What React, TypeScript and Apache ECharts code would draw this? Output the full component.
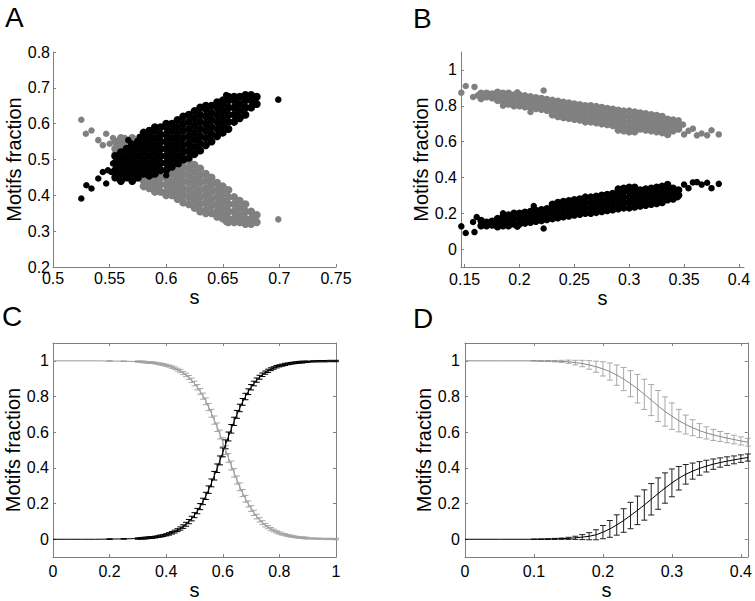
import React, { useEffect, useRef } from "react";
import * as echarts from "echarts";

// ---------- Panel A: scatter (columns of points: [s, fractions...]) ----------
const aBlackCols: [number, number[]][] = [
  [0.555, [0.45, 0.47, 0.49, 0.51]],
  [0.56, [0.44, 0.46, 0.48, 0.5, 0.52]],
  [0.565, [0.45, 0.47, 0.49, 0.51, 0.53]],
  [0.57, [0.44, 0.46, 0.48, 0.5, 0.52, 0.54]],
  [0.575, [0.45, 0.47, 0.49, 0.51, 0.53, 0.55]],
  [0.58, [0.46, 0.48, 0.5, 0.52, 0.54, 0.56, 0.575]],
  [0.585, [0.455, 0.47, 0.49, 0.51, 0.53, 0.55, 0.57, 0.58]],
  [0.59, [0.46, 0.48, 0.5, 0.52, 0.54, 0.56, 0.58, 0.59]],
  [0.595, [0.47, 0.49, 0.51, 0.53, 0.55, 0.57, 0.59]],
  [0.6, [0.47, 0.49, 0.51, 0.53, 0.55, 0.57, 0.59, 0.6]],
  [0.605, [0.48, 0.5, 0.52, 0.54, 0.56, 0.58, 0.6]],
  [0.61, [0.49, 0.51, 0.53, 0.55, 0.57, 0.59, 0.61]],
  [0.615, [0.5, 0.52, 0.54, 0.56, 0.58, 0.6, 0.62]],
  [0.62, [0.505, 0.525, 0.545, 0.565, 0.585, 0.605, 0.625]],
  [0.625, [0.515, 0.535, 0.555, 0.575, 0.595, 0.615, 0.635]],
  [0.63, [0.525, 0.545, 0.565, 0.585, 0.605, 0.625, 0.645]],
  [0.635, [0.54, 0.56, 0.58, 0.6, 0.62, 0.64, 0.65]],
  [0.64, [0.55, 0.57, 0.59, 0.61, 0.63, 0.65]],
  [0.645, [0.565, 0.585, 0.605, 0.625, 0.645, 0.66]],
  [0.65, [0.575, 0.595, 0.615, 0.635, 0.655, 0.665]],
  [0.655, [0.585, 0.605, 0.625, 0.645, 0.665, 0.675]],
  [0.66, [0.605, 0.625, 0.645, 0.665, 0.675]],
  [0.665, [0.615, 0.635, 0.655, 0.675]],
  [0.67, [0.625, 0.645, 0.665, 0.68]],
  [0.675, [0.645, 0.665, 0.68]],
  [0.68, [0.655, 0.675]],
];
const aBlackExtra: number[][] = [
  [0.525, 0.391], [0.5295, 0.428], [0.534, 0.419], [0.54, 0.447], [0.544, 0.465],
  [0.547, 0.433], [0.5515, 0.465], [0.553, 0.489], [0.5485, 0.47], [0.5635, 0.507],
  [0.5665, 0.554], [0.569, 0.545], [0.5765, 0.563], [0.6, 0.456], [0.653, 0.68],
  [0.699, 0.667], [0.662, 0.623], [0.611, 0.487],
];
const aGrayCols: [number, number[]][] = [
  [0.555, [0.55, 0.53, 0.51, 0.49]],
  [0.56, [0.56, 0.54, 0.52, 0.5, 0.48]],
  [0.565, [0.55, 0.53, 0.51, 0.49, 0.47]],
  [0.57, [0.56, 0.54, 0.52, 0.5, 0.48, 0.46]],
  [0.575, [0.55, 0.53, 0.51, 0.49, 0.47, 0.45]],
  [0.58, [0.54, 0.52, 0.5, 0.48, 0.46, 0.44, 0.425]],
  [0.585, [0.545, 0.53, 0.51, 0.49, 0.47, 0.45, 0.43, 0.42]],
  [0.59, [0.54, 0.52, 0.5, 0.48, 0.46, 0.44, 0.42, 0.41]],
  [0.595, [0.53, 0.51, 0.49, 0.47, 0.45, 0.43, 0.41]],
  [0.6, [0.53, 0.51, 0.49, 0.47, 0.45, 0.43, 0.41, 0.4]],
  [0.605, [0.52, 0.5, 0.48, 0.46, 0.44, 0.42, 0.4]],
  [0.61, [0.51, 0.49, 0.47, 0.45, 0.43, 0.41, 0.39]],
  [0.615, [0.5, 0.48, 0.46, 0.44, 0.42, 0.4, 0.38]],
  [0.62, [0.495, 0.475, 0.455, 0.435, 0.415, 0.395, 0.375]],
  [0.625, [0.485, 0.465, 0.445, 0.425, 0.405, 0.385, 0.365]],
  [0.63, [0.475, 0.455, 0.435, 0.415, 0.395, 0.375, 0.355]],
  [0.635, [0.46, 0.44, 0.42, 0.4, 0.38, 0.36, 0.35]],
  [0.64, [0.45, 0.43, 0.41, 0.39, 0.37, 0.35]],
  [0.645, [0.435, 0.415, 0.395, 0.375, 0.355, 0.34]],
  [0.65, [0.425, 0.405, 0.385, 0.365, 0.345, 0.335]],
  [0.655, [0.415, 0.395, 0.375, 0.355, 0.335, 0.325]],
  [0.66, [0.395, 0.375, 0.355, 0.335, 0.325]],
  [0.665, [0.385, 0.365, 0.345, 0.325]],
  [0.67, [0.375, 0.355, 0.335, 0.32]],
  [0.675, [0.355, 0.335, 0.32]],
  [0.68, [0.345, 0.325]],
];
const aGrayExtra: number[][] = [
  [0.525, 0.611], [0.529, 0.572], [0.534, 0.581], [0.54, 0.554], [0.544, 0.54],
  [0.547, 0.572], [0.55, 0.544], [0.5545, 0.516], [0.5605, 0.554], [0.553, 0.56],
  [0.5635, 0.56], [0.6, 0.545], [0.653, 0.325], [0.699, 0.333], [0.68, 0.325],
];

// ---------- Panel B: scatter ----------
const bBlackCols: [number, number[]][] = [
  [0.165, [0.13, 0.16]], [0.17, [0.13, 0.15]], [0.175, [0.135, 0.155]],
  [0.18, [0.125, 0.15, 0.17]], [0.185, [0.13, 0.155, 0.18]], [0.19, [0.13, 0.16, 0.19]],
  [0.195, [0.14, 0.17, 0.2]], [0.2, [0.14, 0.17, 0.2]], [0.205, [0.145, 0.175, 0.205]],
  [0.21, [0.15, 0.18, 0.21]], [0.215, [0.155, 0.185, 0.215]], [0.22, [0.16, 0.19, 0.22]],
  [0.225, [0.165, 0.195, 0.225]], [0.23, [0.17, 0.2, 0.23, 0.25]],
  [0.235, [0.175, 0.205, 0.235, 0.26]], [0.24, [0.18, 0.21, 0.24, 0.265]],
  [0.245, [0.185, 0.215, 0.245, 0.27]], [0.25, [0.19, 0.22, 0.25, 0.275]],
  [0.255, [0.195, 0.225, 0.255, 0.28]], [0.26, [0.2, 0.23, 0.26, 0.29]],
  [0.265, [0.2, 0.23, 0.26, 0.29]], [0.27, [0.205, 0.235, 0.265, 0.295]],
  [0.275, [0.21, 0.24, 0.27, 0.3]], [0.28, [0.215, 0.245, 0.275, 0.305]],
  [0.285, [0.22, 0.25, 0.28, 0.31]], [0.29, [0.225, 0.255, 0.285, 0.315, 0.335]],
  [0.295, [0.23, 0.26, 0.29, 0.32, 0.34]], [0.3, [0.23, 0.26, 0.29, 0.32, 0.345]],
  [0.305, [0.235, 0.265, 0.295, 0.325, 0.345]], [0.31, [0.24, 0.27, 0.3, 0.33]],
  [0.315, [0.245, 0.275, 0.305, 0.335]], [0.32, [0.25, 0.28, 0.31, 0.34]],
  [0.325, [0.255, 0.285, 0.315, 0.345]], [0.33, [0.26, 0.29, 0.32, 0.35]],
  [0.335, [0.275, 0.305, 0.335, 0.36]], [0.34, [0.28, 0.31, 0.34]], [0.345, [0.3, 0.33]],
];
const bBlackExtra: number[][] = [
  [0.147, 0.127], [0.151, 0.09], [0.159, 0.095], [0.1577, 0.151], [0.161, 0.179],
  [0.213, 0.24], [0.222, 0.115], [0.344, 0.29], [0.35, 0.36], [0.354, 0.34],
  [0.3617, 0.374], [0.366, 0.36], [0.371, 0.37], [0.375, 0.34], [0.3816, 0.364],
  [0.405, 0.434], [0.358, 0.372], [0.198, 0.125], [0.185, 0.2],
];
const bGrayCols: [number, number[]][] = [
  [0.165, [0.87, 0.84]], [0.17, [0.87, 0.85]], [0.175, [0.865, 0.845]],
  [0.18, [0.875, 0.85, 0.83]], [0.185, [0.87, 0.845, 0.82]], [0.19, [0.87, 0.84, 0.81]],
  [0.195, [0.86, 0.83, 0.8]], [0.2, [0.86, 0.83, 0.8]], [0.205, [0.855, 0.825, 0.795]],
  [0.21, [0.85, 0.82, 0.79]], [0.215, [0.845, 0.815, 0.785]], [0.22, [0.84, 0.81, 0.78]],
  [0.225, [0.835, 0.805, 0.775]], [0.23, [0.83, 0.8, 0.77, 0.75]],
  [0.235, [0.825, 0.795, 0.765, 0.74]], [0.24, [0.82, 0.79, 0.76, 0.735]],
  [0.245, [0.815, 0.785, 0.755, 0.73]], [0.25, [0.81, 0.78, 0.75, 0.725]],
  [0.255, [0.805, 0.775, 0.745, 0.72]], [0.26, [0.8, 0.77, 0.74, 0.71]],
  [0.265, [0.8, 0.77, 0.74, 0.71]], [0.27, [0.795, 0.765, 0.735, 0.705]],
  [0.275, [0.79, 0.76, 0.73, 0.7]], [0.28, [0.785, 0.755, 0.725, 0.695]],
  [0.285, [0.78, 0.75, 0.72, 0.69]], [0.29, [0.775, 0.745, 0.715, 0.685, 0.665]],
  [0.295, [0.77, 0.74, 0.71, 0.68, 0.66]], [0.3, [0.77, 0.74, 0.71, 0.68, 0.655]],
  [0.305, [0.765, 0.735, 0.705, 0.675, 0.655]], [0.31, [0.76, 0.73, 0.7, 0.67]],
  [0.315, [0.755, 0.725, 0.695, 0.665]], [0.32, [0.75, 0.72, 0.69, 0.66]],
  [0.325, [0.745, 0.715, 0.685, 0.655]], [0.33, [0.74, 0.71, 0.68, 0.65]],
  [0.335, [0.725, 0.695, 0.665, 0.64]], [0.34, [0.72, 0.69, 0.66]], [0.345, [0.7, 0.67]],
];
const bGrayExtra: number[][] = [
  [0.147, 0.873], [0.151, 0.91], [0.159, 0.905], [0.1577, 0.849], [0.162, 0.858],
  [0.21, 0.765], [0.222, 0.885], [0.344, 0.71], [0.35, 0.64], [0.354, 0.66],
  [0.3617, 0.635], [0.366, 0.645], [0.371, 0.635], [0.375, 0.663], [0.3816, 0.64],
  [0.405, 0.574], [0.358, 0.672], [0.198, 0.875], [0.185, 0.8], [0.345, 0.719], [0.349, 0.695],
];

// ---------- Panel C: mean curves with error bars ----------
const cS = [
  0, 0.05, 0.1, 0.15, 0.2, 0.25,
  0.3, 0.31, 0.32, 0.33, 0.34, 0.35, 0.36, 0.37, 0.38, 0.39,
  0.4, 0.41, 0.42, 0.43, 0.44, 0.45, 0.46, 0.47, 0.48, 0.49,
  0.5, 0.51, 0.52, 0.53, 0.54, 0.55, 0.56, 0.57, 0.58, 0.59,
  0.6, 0.61, 0.62, 0.63, 0.64, 0.65, 0.66, 0.67, 0.68, 0.69,
  0.7, 0.71, 0.72, 0.73, 0.74, 0.75, 0.76, 0.77, 0.78, 0.79,
  0.8, 0.81, 0.82, 0.83, 0.84, 0.85, 0.86, 0.87, 0.88, 0.89,
  0.9, 0.92, 0.94, 0.96, 0.98, 1,
];
const cBlack = [
  0, 0, 0, 0, 0.001, 0.002,
  0.004, 0.005, 0.006, 0.007, 0.009, 0.01, 0.012, 0.015, 0.018, 0.021,
  0.025, 0.03, 0.036, 0.043, 0.051, 0.06, 0.071, 0.084, 0.099, 0.116,
  0.135, 0.158, 0.183, 0.212, 0.243, 0.278, 0.316, 0.356, 0.398, 0.442,
  0.487, 0.532, 0.576, 0.619, 0.661, 0.7, 0.736, 0.77, 0.8, 0.827,
  0.852, 0.873, 0.892, 0.908, 0.922, 0.934, 0.944, 0.953, 0.96, 0.967,
  0.972, 0.976, 0.98, 0.983, 0.986, 0.988, 0.99, 0.992, 0.993, 0.994,
  0.995, 0.997, 0.998, 0.998, 0.999, 0.999,
];
const cBlackErr = [
  0, 0, 0, 0, 0.001, 0.001,
  0.004, 0.004, 0.005, 0.005, 0.005, 0.005, 0.005, 0.005, 0.006, 0.006,
  0.006, 0.007, 0.007, 0.008, 0.008, 0.009, 0.01, 0.011, 0.012, 0.013,
  0.014, 0.015, 0.017, 0.018, 0.02, 0.021, 0.022, 0.024, 0.024, 0.025,
  0.025, 0.025, 0.025, 0.024, 0.023, 0.022, 0.021, 0.019, 0.018, 0.016,
  0.015, 0.013, 0.012, 0.011, 0.01, 0.009, 0.009, 0.008, 0.007, 0.007,
  0.006, 0.006, 0.006, 0.005, 0.005, 0.005, 0.005, 0.005, 0.005, 0.004,
  0.004, 0.004, 0.004, 0.004, 0.004, 0.004,
];
const cGray = [
  1, 1, 1, 1, 0.999, 0.998,
  0.996, 0.995, 0.994, 0.992, 0.991, 0.99, 0.988, 0.985, 0.982, 0.979,
  0.975, 0.971, 0.965, 0.959, 0.951, 0.943, 0.932, 0.921, 0.907, 0.891,
  0.873, 0.852, 0.829, 0.802, 0.773, 0.741, 0.706, 0.668, 0.628, 0.587,
  0.544, 0.5, 0.456, 0.413, 0.372, 0.332, 0.294, 0.259, 0.227, 0.198,
  0.172, 0.148, 0.127, 0.109, 0.093, 0.079, 0.068, 0.057, 0.049, 0.041,
  0.035, 0.029, 0.025, 0.021, 0.018, 0.015, 0.012, 0.01, 0.009, 0.007,
  0.006, 0.004, 0.003, 0.002, 0.002, 0.001,
];
const cGrayErr = [
  0, 0, 0, 0, 0.001, 0.001,
  0.004, 0.004, 0.005, 0.005, 0.005, 0.005, 0.005, 0.005, 0.006, 0.006,
  0.006, 0.006, 0.007, 0.007, 0.008, 0.009, 0.009, 0.01, 0.011, 0.012,
  0.013, 0.015, 0.016, 0.017, 0.019, 0.02, 0.022, 0.023, 0.024, 0.025,
  0.025, 0.025, 0.025, 0.025, 0.024, 0.023, 0.022, 0.02, 0.019, 0.017,
  0.016, 0.015, 0.013, 0.012, 0.011, 0.01, 0.009, 0.009, 0.008, 0.007,
  0.007, 0.006, 0.006, 0.006, 0.006, 0.005, 0.005, 0.005, 0.005, 0.005,
  0.005, 0.004, 0.004, 0.004, 0.004, 0.004,
];

// ---------- Panel D ----------
const dS = [
  0, 0.05, 0.1, 0.11, 0.12, 0.13, 0.14, 0.15, 0.16, 0.17, 0.18, 0.19,
  0.2, 0.21, 0.22, 0.23, 0.24, 0.25, 0.26, 0.27, 0.28, 0.29,
  0.3, 0.31, 0.32, 0.33, 0.34, 0.35, 0.36, 0.37, 0.38, 0.39, 0.4, 0.41,
];
const dGray = [
  1, 1, 1, 0.999, 0.999, 0.998, 0.997, 0.995, 0.99, 0.985, 0.977, 0.967,
  0.955, 0.94, 0.92, 0.898, 0.872, 0.844, 0.812, 0.78, 0.747, 0.716,
  0.69, 0.665, 0.643, 0.625, 0.609, 0.596, 0.585, 0.576, 0.567, 0.559, 0.551, 0.544,
];
const dGrayErr = [
  0, 0, 0.001, 0.002, 0.003, 0.004, 0.006, 0.009, 0.013, 0.018, 0.024, 0.031,
  0.04, 0.048, 0.057, 0.065, 0.073, 0.08, 0.085, 0.087, 0.087, 0.082,
  0.074, 0.063, 0.053, 0.045, 0.039, 0.034, 0.031, 0.028, 0.026, 0.024, 0.023, 0.022,
];
const dBlack = [
  0, 0, 0, 0.0005, 0.001, 0.002, 0.003, 0.005, 0.008, 0.012, 0.017, 0.025,
  0.04, 0.058, 0.08, 0.105, 0.133, 0.162, 0.192, 0.224, 0.256, 0.287,
  0.316, 0.342, 0.364, 0.382, 0.397, 0.41, 0.421, 0.43, 0.438, 0.445, 0.452, 0.458,
];
const dBlackErr = [
  0, 0, 0.0005, 0.001, 0.002, 0.003, 0.004, 0.006, 0.009, 0.014, 0.02, 0.028,
  0.037, 0.047, 0.057, 0.066, 0.074, 0.08, 0.085, 0.088, 0.088, 0.085,
  0.078, 0.066, 0.055, 0.045, 0.038, 0.033, 0.029, 0.026, 0.024, 0.022, 0.021, 0.02,
];

// ---------- tick values ----------
const aXTicks = [0.5, 0.55, 0.6, 0.65, 0.7, 0.75];
const aYTicks = [0.2, 0.3, 0.4, 0.5, 0.6, 0.7, 0.8];
const bXTicks = [0.15, 0.2, 0.25, 0.3, 0.35, 0.4];
const fracTicks = [0, 0.2, 0.4, 0.6, 0.8, 1];
const cXTicks = [0, 0.2, 0.4, 0.6, 0.8, 1];
const dXTicks = [0, 0.1, 0.2, 0.3, 0.4];

const FONT = '"Liberation Sans", Arial, Helvetica, sans-serif';
const AXIS_GRAY = "#808080";

const flat = (cols: [number, number[]][]) => cols.flatMap(([s, vs]) => vs.map((v) => [s, v]));
const zipXY = (xs: number[], ys: number[]) => xs.map((x, i) => [x, ys[i]]);
const zipErr = (xs: number[], ys: number[], es: number[]) =>
  xs.map((x, i) => [x, ys[i], es[i]]).filter((d) => d[2] > 0);

const fmt = (v: number) => String(Math.round(v * 100) / 100);

function axis(o: {
  grid: number; min: number; max: number; ticks: number[]; pos: string;
  labels: boolean; margin?: number; name?: string; nameGap?: number;
}) {
  return {
    type: "value",
    gridIndex: o.grid,
    min: o.min,
    max: o.max,
    position: o.pos,
    axisLine: { show: true, onZero: false, lineStyle: { color: AXIS_GRAY, width: 1 } },
    axisTick: { show: true, inside: true, length: 3, customValues: o.ticks, lineStyle: { color: AXIS_GRAY } },
    axisLabel: {
      show: o.labels,
      customValues: o.ticks,
      margin: o.margin ?? 4,
      formatter: fmt,
      color: "#000",
      fontSize: 16,
      fontFamily: FONT,
    },
    splitLine: { show: false },
    name: o.name,
    nameLocation: "middle",
    nameGap: o.nameGap,
    nameTextStyle: { color: "#000", fontSize: 20, fontFamily: FONT },
  };
}

function errSeries(data: number[][], xi: number, yi: number, color: string, cap: number) {
  return {
    type: "custom",
    xAxisIndex: xi,
    yAxisIndex: yi,
    data,
    encode: { x: 0, y: 1 },
    renderItem: (_p: any, api: any) => {
      const x = api.value(0);
      const y = api.value(1);
      const e = api.value(2);
      const t = api.coord([x, y + e]);
      const b = api.coord([x, y - e]);
      const style = { stroke: color, lineWidth: 1, fill: "none" };
      return {
        type: "group",
        children: [
          { type: "line", shape: { x1: t[0], y1: t[1], x2: b[0], y2: b[1] }, style },
          { type: "line", shape: { x1: t[0] - cap, y1: t[1], x2: t[0] + cap, y2: t[1] }, style },
          { type: "line", shape: { x1: b[0] - cap, y1: b[1], x2: b[0] + cap, y2: b[1] }, style },
        ],
      };
    },
  };
}

function lineSeries(data: number[][], xi: number, yi: number, color: string) {
  return {
    type: "line",
    xAxisIndex: xi,
    yAxisIndex: yi,
    data,
    showSymbol: false,
    symbol: "none",
    lineStyle: { color, width: 1 },
  };
}

function scatter(data: number[][], xi: number, yi: number, color: string, size: number) {
  return {
    type: "scatter",
    xAxisIndex: xi,
    yAxisIndex: yi,
    data,
    symbolSize: size,
    itemStyle: { color, opacity: 1 },
  };
}

function letter(t: string, x: number, y: number) {
  return {
    type: "text",
    x,
    y,
    style: { text: t, fontSize: 28, fontFamily: FONT, fill: "#000", align: "left", verticalAlign: "middle" },
  };
}

const GRAY_DOT = "#808080";

const option: any = {
  animation: false,
  backgroundColor: "#fff",
  grid: [
    { left: 53, top: 52, width: 283, height: 215 },
    { left: 461, top: 52, width: 283, height: 215 },
    { left: 53, top: 343, width: 283, height: 216 },
    { left: 465, top: 343, width: 283, height: 216 },
  ],
  xAxis: [
    axis({ grid: 0, min: 0.5, max: 0.75, ticks: aXTicks, pos: "bottom", labels: true, margin: 3, name: "s", nameGap: 20 }),
    axis({ grid: 1, min: 0.1467, max: 0.4046, ticks: bXTicks, pos: "bottom", labels: true, margin: 4, name: "s", nameGap: 20 }),
    axis({ grid: 2, min: 0, max: 1, ticks: cXTicks, pos: "bottom", labels: true, margin: 6, name: "s", nameGap: 20 }),
    axis({ grid: 2, min: 0, max: 1, ticks: cXTicks, pos: "top", labels: false }),
    axis({ grid: 3, min: 0, max: 0.41, ticks: dXTicks, pos: "bottom", labels: true, margin: 6, name: "s", nameGap: 20 }),
    axis({ grid: 3, min: 0, max: 0.41, ticks: dXTicks, pos: "top", labels: false }),
  ],
  yAxis: [
    axis({ grid: 0, min: 0.2, max: 0.8, ticks: aYTicks, pos: "left", labels: true, margin: 3, name: "Motifs fraction", nameGap: 28 }),
    axis({ grid: 1, min: -0.1, max: 1.1, ticks: fracTicks, pos: "left", labels: true, margin: 4, name: "Motifs fraction", nameGap: 28 }),
    axis({ grid: 2, min: -0.1, max: 1.1, ticks: fracTicks, pos: "left", labels: true, margin: 4, name: "Motifs fraction", nameGap: 28 }),
    axis({ grid: 2, min: -0.1, max: 1.1, ticks: fracTicks, pos: "right", labels: false }),
    axis({ grid: 3, min: -0.1, max: 1.1, ticks: fracTicks, pos: "left", labels: true, margin: 5, name: "Motifs fraction", nameGap: 28 }),
    axis({ grid: 3, min: -0.1, max: 1.1, ticks: fracTicks, pos: "right", labels: false }),
  ],
  series: [
    scatter(flat(aGrayCols), 0, 0, GRAY_DOT, 8),
    scatter(aGrayExtra, 0, 0, GRAY_DOT, 6.5),
    scatter(flat(aBlackCols), 0, 0, "#000", 8),
    scatter(aBlackExtra, 0, 0, "#000", 6.5),
    scatter(flat(bGrayCols), 1, 1, GRAY_DOT, 7.5),
    scatter(bGrayExtra, 1, 1, GRAY_DOT, 6.5),
    scatter(flat(bBlackCols), 1, 1, "#000", 7.5),
    scatter(bBlackExtra, 1, 1, "#000", 6.5),
    errSeries(zipErr(cS, cGray, cGrayErr), 2, 2, "#a8a8a8", 3),
    lineSeries(zipXY(cS, cGray), 2, 2, "#999"),
    errSeries(zipErr(cS, cBlack, cBlackErr), 2, 2, "#000", 3),
    lineSeries(zipXY(cS, cBlack), 2, 2, "#000"),
    errSeries(zipErr(dS, dGray, dGrayErr), 4, 4, "#a8a8a8", 3),
    lineSeries(zipXY(dS, dGray), 4, 4, "#888"),
    errSeries(zipErr(dS, dBlack, dBlackErr), 4, 4, "#222", 3),
    lineSeries(zipXY(dS, dBlack), 4, 4, "#000"),
  ],
  graphic: [letter("A", 5, 17.5), letter("B", 413, 18.3), letter("C", 2, 316.7), letter("D", 413, 318.3)],
};

export default function App() {
  const ref = useRef<HTMLDivElement>(null);
  useEffect(() => {
    if (!ref.current) return;
    const chart = echarts.init(ref.current, null, { renderer: "svg" });
    chart.setOption(option);
    return () => chart.dispose();
  }, []);
  return (
    <div
      ref={ref}
      style={{ position: "fixed", left: 0, top: 0, width: 755, height: 601, background: "#fff" }}
    />
  );
}
